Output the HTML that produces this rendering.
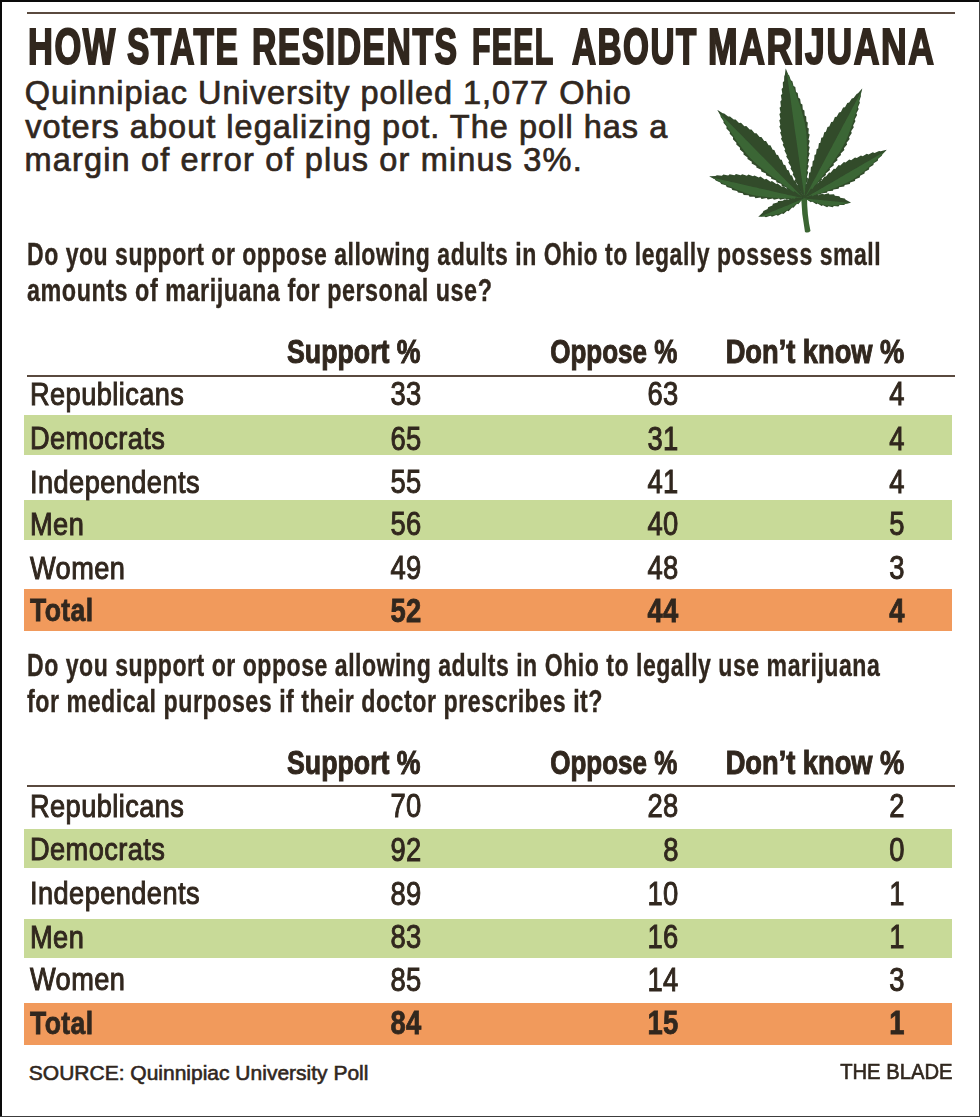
<!DOCTYPE html>
<html><head><meta charset="utf-8"><style>
html,body{margin:0;padding:0;background:#fff;}
body{width:980px;height:1117px;position:relative;overflow:hidden;font-family:"Liberation Sans",sans-serif;color:#31271e;}
.t{position:absolute;white-space:nowrap;line-height:1;transform-origin:0 0;}
.t.r{transform-origin:100% 0;}
.band{position:absolute;}
.rule{position:absolute;background:#5a4a3f;}
</style></head><body>
<div style="position:absolute;left:0;top:0;width:980px;height:2px;background:#0a0a0a"></div>
<div style="position:absolute;left:0;top:0;width:2px;height:1117px;background:#0a0a0a"></div>
<div style="position:absolute;left:979px;top:0;width:1px;height:1117px;background:#3c3c3c"></div>
<div style="position:absolute;left:0;top:1116px;width:980px;height:1px;background:#3c3c3c"></div>
<div class="rule" style="left:26.5px;top:12.4px;width:928.5px;height:1.8px"></div>
<div class="t" style="left:28.19px;top:21.88px;font-size:50px;font-weight:700;transform:scaleX(0.6890529763820714);letter-spacing:2.2px;margin-right:0;-webkit-text-stroke:2.0px #31271e;">HOW</div>
<div class="t" style="left:127.01px;top:21.88px;font-size:50px;font-weight:700;transform:scaleX(0.6703500844448342);letter-spacing:2.2px;margin-right:0;-webkit-text-stroke:2.0px #31271e;">STATE</div>
<div class="t" style="left:252.44px;top:21.88px;font-size:50px;font-weight:700;transform:scaleX(0.6749756097560979);letter-spacing:2.2px;margin-right:0;-webkit-text-stroke:2.0px #31271e;">RESIDENTS</div>
<div class="t" style="left:472.29px;top:21.88px;font-size:50px;font-weight:700;transform:scaleX(0.6051072685917721);letter-spacing:2.2px;margin-right:0;-webkit-text-stroke:2.0px #31271e;">FEEL</div>
<div class="t" style="left:571.59px;top:21.88px;font-size:50px;font-weight:700;transform:scaleX(0.6662802775327622);letter-spacing:2.2px;margin-right:0;-webkit-text-stroke:2.0px #31271e;">ABOUT</div>
<div class="t" style="left:707.71px;top:21.88px;font-size:50px;font-weight:700;transform:scaleX(0.7111295680355465);letter-spacing:2.2px;margin-right:0;-webkit-text-stroke:2.0px #31271e;">MARIJUANA</div>
<div class="t" style="left:24.80px;top:77.29px;font-size:32.5px;font-weight:400;transform:scaleX(1.0);letter-spacing:0.97px;-webkit-text-stroke:0.7px #31271e;">Quinnipiac University polled 1,077 Ohio</div>
<div class="t" style="left:25.20px;top:111.29px;font-size:32.5px;font-weight:400;transform:scaleX(1.0);letter-spacing:1.02px;-webkit-text-stroke:0.7px #31271e;">voters about legalizing pot. The poll has a</div>
<div class="t" style="left:24.50px;top:144.49px;font-size:32.5px;font-weight:400;transform:scaleX(1.0);letter-spacing:1.16px;-webkit-text-stroke:0.7px #31271e;">margin of error of plus or minus 3%.</div>
<div class="t" style="left:26.50px;top:238.86px;font-size:31px;font-weight:700;transform:scaleX(0.742738);letter-spacing:0.7px;-webkit-text-stroke:0.35px #31271e;">Do you support or oppose allowing adults in Ohio to legally possess small</div>
<div class="t" style="left:26.50px;top:275.16px;font-size:31px;font-weight:700;transform:scaleX(0.7538379999999999);letter-spacing:0.7px;-webkit-text-stroke:0.35px #31271e;">amounts of marijuana for personal use?</div>
<div class="band" style="left:24px;top:415px;width:928px;height:40px;background:#c8da98"></div>
<div class="band" style="left:24px;top:500px;width:928px;height:40px;background:#c8da98"></div>
<div class="band" style="left:24px;top:589px;width:928px;height:42px;background:#f19a5c"></div>
<div class="rule" style="left:27px;top:375px;width:928px;height:2px"></div>
<div class="t" style="left:287.30px;top:335.07px;font-size:33px;font-weight:700;transform:scaleX(0.81);letter-spacing:0px;-webkit-text-stroke:1.0px #31271e;">Support %</div>
<div class="t r" style="right:302.60px;top:335.07px;font-size:33px;font-weight:700;transform:scaleX(0.788);letter-spacing:0px;-webkit-text-stroke:1.0px #31271e;">Oppose %</div>
<div class="t r" style="right:76.00px;top:335.07px;font-size:33px;font-weight:700;transform:scaleX(0.826);letter-spacing:0px;-webkit-text-stroke:1.0px #31271e;">Don&rsquo;t know %</div>
<div class="t" style="left:29.80px;top:377.91px;font-size:32px;font-weight:400;transform:scaleX(0.85);letter-spacing:0.5px;-webkit-text-stroke:1.0px #31271e;">Republicans</div>
<div class="t r" style="right:558.59px;top:377.37px;font-size:33px;font-weight:400;transform:scaleX(0.83);letter-spacing:0.5px;-webkit-text-stroke:0.95px #31271e;">33</div>
<div class="t r" style="right:301.19px;top:377.37px;font-size:33px;font-weight:400;transform:scaleX(0.83);letter-spacing:0.5px;-webkit-text-stroke:0.95px #31271e;">63</div>
<div class="t r" style="right:75.59px;top:377.37px;font-size:33px;font-weight:400;transform:scaleX(0.83);letter-spacing:0.5px;-webkit-text-stroke:0.95px #31271e;">4</div>
<div class="t" style="left:29.80px;top:422.21px;font-size:32px;font-weight:400;transform:scaleX(0.85);letter-spacing:0.5px;-webkit-text-stroke:1.0px #31271e;">Democrats</div>
<div class="t r" style="right:558.59px;top:421.67px;font-size:33px;font-weight:400;transform:scaleX(0.83);letter-spacing:0.5px;-webkit-text-stroke:0.95px #31271e;">65</div>
<div class="t r" style="right:301.19px;top:421.67px;font-size:33px;font-weight:400;transform:scaleX(0.83);letter-spacing:0.5px;-webkit-text-stroke:0.95px #31271e;">31</div>
<div class="t r" style="right:75.59px;top:421.67px;font-size:33px;font-weight:400;transform:scaleX(0.83);letter-spacing:0.5px;-webkit-text-stroke:0.95px #31271e;">4</div>
<div class="t" style="left:29.80px;top:465.71px;font-size:32px;font-weight:400;transform:scaleX(0.85);letter-spacing:0.5px;-webkit-text-stroke:1.0px #31271e;">Independents</div>
<div class="t r" style="right:558.59px;top:465.17px;font-size:33px;font-weight:400;transform:scaleX(0.83);letter-spacing:0.5px;-webkit-text-stroke:0.95px #31271e;">55</div>
<div class="t r" style="right:301.19px;top:465.17px;font-size:33px;font-weight:400;transform:scaleX(0.83);letter-spacing:0.5px;-webkit-text-stroke:0.95px #31271e;">41</div>
<div class="t r" style="right:75.59px;top:465.17px;font-size:33px;font-weight:400;transform:scaleX(0.83);letter-spacing:0.5px;-webkit-text-stroke:0.95px #31271e;">4</div>
<div class="t" style="left:29.80px;top:507.81px;font-size:32px;font-weight:400;transform:scaleX(0.85);letter-spacing:0.5px;-webkit-text-stroke:1.0px #31271e;">Men</div>
<div class="t r" style="right:558.59px;top:507.27px;font-size:33px;font-weight:400;transform:scaleX(0.83);letter-spacing:0.5px;-webkit-text-stroke:0.95px #31271e;">56</div>
<div class="t r" style="right:301.19px;top:507.27px;font-size:33px;font-weight:400;transform:scaleX(0.83);letter-spacing:0.5px;-webkit-text-stroke:0.95px #31271e;">40</div>
<div class="t r" style="right:75.59px;top:507.27px;font-size:33px;font-weight:400;transform:scaleX(0.83);letter-spacing:0.5px;-webkit-text-stroke:0.95px #31271e;">5</div>
<div class="t" style="left:29.80px;top:552.01px;font-size:32px;font-weight:400;transform:scaleX(0.85);letter-spacing:0.5px;-webkit-text-stroke:1.0px #31271e;">Women</div>
<div class="t r" style="right:558.59px;top:551.47px;font-size:33px;font-weight:400;transform:scaleX(0.83);letter-spacing:0.5px;-webkit-text-stroke:0.95px #31271e;">49</div>
<div class="t r" style="right:301.19px;top:551.47px;font-size:33px;font-weight:400;transform:scaleX(0.83);letter-spacing:0.5px;-webkit-text-stroke:0.95px #31271e;">48</div>
<div class="t r" style="right:75.59px;top:551.47px;font-size:33px;font-weight:400;transform:scaleX(0.83);letter-spacing:0.5px;-webkit-text-stroke:0.95px #31271e;">3</div>
<div class="t" style="left:29.80px;top:594.31px;font-size:32px;font-weight:700;transform:scaleX(0.83);letter-spacing:0.5px;-webkit-text-stroke:0.8px #31271e;">Total</div>
<div class="t r" style="right:558.59px;top:593.77px;font-size:33px;font-weight:700;transform:scaleX(0.83);letter-spacing:0.5px;-webkit-text-stroke:0.8px #31271e;">52</div>
<div class="t r" style="right:301.19px;top:593.77px;font-size:33px;font-weight:700;transform:scaleX(0.83);letter-spacing:0.5px;-webkit-text-stroke:0.8px #31271e;">44</div>
<div class="t r" style="right:75.59px;top:593.77px;font-size:33px;font-weight:700;transform:scaleX(0.83);letter-spacing:0.5px;-webkit-text-stroke:0.8px #31271e;">4</div>
<div class="t" style="left:26.50px;top:650.26px;font-size:31px;font-weight:700;transform:scaleX(0.744218);letter-spacing:0.7px;-webkit-text-stroke:0.35px #31271e;">Do you support or oppose allowing adults in Ohio to legally use marijuana</div>
<div class="t" style="left:26.50px;top:686.46px;font-size:31px;font-weight:700;transform:scaleX(0.748584);letter-spacing:0.7px;-webkit-text-stroke:0.35px #31271e;">for medical purposes if their doctor prescribes it?</div>
<div class="band" style="left:24px;top:829px;width:928px;height:39px;background:#c8da98"></div>
<div class="band" style="left:24px;top:919px;width:928px;height:39px;background:#c8da98"></div>
<div class="band" style="left:24px;top:1003px;width:928px;height:42px;background:#f19a5c"></div>
<div class="rule" style="left:27px;top:785px;width:928px;height:2px"></div>
<div class="t" style="left:287.30px;top:745.67px;font-size:33px;font-weight:700;transform:scaleX(0.81);letter-spacing:0px;-webkit-text-stroke:1.0px #31271e;">Support %</div>
<div class="t r" style="right:302.60px;top:745.67px;font-size:33px;font-weight:700;transform:scaleX(0.788);letter-spacing:0px;-webkit-text-stroke:1.0px #31271e;">Oppose %</div>
<div class="t r" style="right:76.00px;top:745.67px;font-size:33px;font-weight:700;transform:scaleX(0.826);letter-spacing:0px;-webkit-text-stroke:1.0px #31271e;">Don&rsquo;t know %</div>
<div class="t" style="left:29.80px;top:789.61px;font-size:32px;font-weight:400;transform:scaleX(0.85);letter-spacing:0.5px;-webkit-text-stroke:1.0px #31271e;">Republicans</div>
<div class="t r" style="right:558.59px;top:789.07px;font-size:33px;font-weight:400;transform:scaleX(0.83);letter-spacing:0.5px;-webkit-text-stroke:0.95px #31271e;">70</div>
<div class="t r" style="right:301.19px;top:789.07px;font-size:33px;font-weight:400;transform:scaleX(0.83);letter-spacing:0.5px;-webkit-text-stroke:0.95px #31271e;">28</div>
<div class="t r" style="right:75.59px;top:789.07px;font-size:33px;font-weight:400;transform:scaleX(0.83);letter-spacing:0.5px;-webkit-text-stroke:0.95px #31271e;">2</div>
<div class="t" style="left:29.80px;top:833.31px;font-size:32px;font-weight:400;transform:scaleX(0.85);letter-spacing:0.5px;-webkit-text-stroke:1.0px #31271e;">Democrats</div>
<div class="t r" style="right:558.59px;top:832.77px;font-size:33px;font-weight:400;transform:scaleX(0.83);letter-spacing:0.5px;-webkit-text-stroke:0.95px #31271e;">92</div>
<div class="t r" style="right:301.19px;top:832.77px;font-size:33px;font-weight:400;transform:scaleX(0.83);letter-spacing:0.5px;-webkit-text-stroke:0.95px #31271e;">8</div>
<div class="t r" style="right:75.59px;top:832.77px;font-size:33px;font-weight:400;transform:scaleX(0.83);letter-spacing:0.5px;-webkit-text-stroke:0.95px #31271e;">0</div>
<div class="t" style="left:29.80px;top:877.31px;font-size:32px;font-weight:400;transform:scaleX(0.85);letter-spacing:0.5px;-webkit-text-stroke:1.0px #31271e;">Independents</div>
<div class="t r" style="right:558.59px;top:876.77px;font-size:33px;font-weight:400;transform:scaleX(0.83);letter-spacing:0.5px;-webkit-text-stroke:0.95px #31271e;">89</div>
<div class="t r" style="right:301.19px;top:876.77px;font-size:33px;font-weight:400;transform:scaleX(0.83);letter-spacing:0.5px;-webkit-text-stroke:0.95px #31271e;">10</div>
<div class="t r" style="right:75.59px;top:876.77px;font-size:33px;font-weight:400;transform:scaleX(0.83);letter-spacing:0.5px;-webkit-text-stroke:0.95px #31271e;">1</div>
<div class="t" style="left:29.80px;top:920.81px;font-size:32px;font-weight:400;transform:scaleX(0.85);letter-spacing:0.5px;-webkit-text-stroke:1.0px #31271e;">Men</div>
<div class="t r" style="right:558.59px;top:920.27px;font-size:33px;font-weight:400;transform:scaleX(0.83);letter-spacing:0.5px;-webkit-text-stroke:0.95px #31271e;">83</div>
<div class="t r" style="right:301.19px;top:920.27px;font-size:33px;font-weight:400;transform:scaleX(0.83);letter-spacing:0.5px;-webkit-text-stroke:0.95px #31271e;">16</div>
<div class="t r" style="right:75.59px;top:920.27px;font-size:33px;font-weight:400;transform:scaleX(0.83);letter-spacing:0.5px;-webkit-text-stroke:0.95px #31271e;">1</div>
<div class="t" style="left:29.80px;top:963.11px;font-size:32px;font-weight:400;transform:scaleX(0.85);letter-spacing:0.5px;-webkit-text-stroke:1.0px #31271e;">Women</div>
<div class="t r" style="right:558.59px;top:962.57px;font-size:33px;font-weight:400;transform:scaleX(0.83);letter-spacing:0.5px;-webkit-text-stroke:0.95px #31271e;">85</div>
<div class="t r" style="right:301.19px;top:962.57px;font-size:33px;font-weight:400;transform:scaleX(0.83);letter-spacing:0.5px;-webkit-text-stroke:0.95px #31271e;">14</div>
<div class="t r" style="right:75.59px;top:962.57px;font-size:33px;font-weight:400;transform:scaleX(0.83);letter-spacing:0.5px;-webkit-text-stroke:0.95px #31271e;">3</div>
<div class="t" style="left:29.80px;top:1006.71px;font-size:32px;font-weight:700;transform:scaleX(0.83);letter-spacing:0.5px;-webkit-text-stroke:0.8px #31271e;">Total</div>
<div class="t r" style="right:558.59px;top:1006.17px;font-size:33px;font-weight:700;transform:scaleX(0.83);letter-spacing:0.5px;-webkit-text-stroke:0.8px #31271e;">84</div>
<div class="t r" style="right:301.19px;top:1006.17px;font-size:33px;font-weight:700;transform:scaleX(0.83);letter-spacing:0.5px;-webkit-text-stroke:0.8px #31271e;">15</div>
<div class="t r" style="right:75.59px;top:1006.17px;font-size:33px;font-weight:700;transform:scaleX(0.83);letter-spacing:0.5px;-webkit-text-stroke:0.8px #31271e;">1</div>
<div class="t" style="left:28.80px;top:1062.42px;font-size:21px;font-weight:400;transform:scaleX(1.0);letter-spacing:0px;-webkit-text-stroke:0.6px #31271e;">SOURCE: Quinnipiac University Poll</div>
<div class="t r" style="right:27.20px;top:1062.00px;font-size:21.5px;font-weight:400;transform:scaleX(0.94);letter-spacing:0px;-webkit-text-stroke:0.6px #31271e;">THE BLADE</div>
<svg style="position:absolute;left:0;top:0" width="980" height="260" viewBox="0 0 980 260"><g filter="url(#bl)"><defs><filter id="bl" x="-10%" y="-10%" width="120%" height="120%"><feGaussianBlur stdDeviation="0.45"/></filter></defs><path d="M801,195 L807,195 Q807,215 810.5,231 Q808,233.5 805,232 Q801.5,214 801,195 Z" fill="#3a6533"/><path d="M804.0,198.0 L805.9,189.8 L807.6,184.6 L806.5,183.5 L808.0,178.3 L806.8,177.3 L808.3,172.1 L807.2,171.0 L808.8,165.8 L807.7,164.7 L809.2,159.5 L808.1,158.5 L809.7,153.3 L808.6,152.2 L809.7,147.1 L808.5,146.0 L809.7,140.8 L808.5,139.8 L809.7,134.6 L808.4,133.6 L808.8,128.6 L807.4,127.5 L807.8,122.5 L806.4,121.4 L806.2,116.5 L804.7,115.5 L804.4,110.6 L802.8,109.5 L802.4,104.6 L800.8,103.6 L800.1,98.8 L798.4,97.7 L797.7,92.9 L796.0,91.9 L795.3,87.0 L793.5,86.0 L792.4,81.2 L790.8,80.2 L789.2,75.5 L788.2,74.4 L786.3,69.7 L785.7,68.5 L785.5,69.8 L784.9,74.8 L784.2,76.2 L784.1,81.1 L782.8,82.6 L783.0,87.5 L781.6,88.9 L782.3,93.8 L780.9,95.2 L781.6,100.1 L780.3,101.5 L780.9,106.4 L779.6,107.8 L780.6,112.7 L779.4,114.1 L780.5,118.9 L779.3,120.3 L780.4,125.1 L779.4,126.5 L781.2,131.2 L780.1,132.6 L781.9,137.3 L781.0,138.7 L783.5,143.3 L782.7,144.7 L785.2,149.3 L784.4,150.6 L786.9,155.2 L786.2,156.6 L789.1,161.1 L788.3,162.5 L791.2,167.0 L790.5,168.4 L793.4,172.9 L792.6,174.3 L795.5,178.9 L794.7,180.2 L797.6,184.8 L796.8,186.1 L799.9,190.7Z" fill="#304b2b"/><path d="M803.6,195.4 L805.6,193.4 L805.9,188.9 L806.1,184.5 L806.2,180.1 L806.4,175.7 L806.5,171.2 L806.6,166.8 L806.8,162.4 L806.9,158.0 L807.1,153.5 L807.0,149.1 L806.9,144.8 L806.8,140.4 L806.6,136.0 L806.2,131.7 L805.5,127.3 L804.8,123.0 L803.8,118.8 L802.6,114.5 L801.5,110.3 L800.3,106.1 L798.8,101.9 L797.3,97.7 L795.8,93.5 L794.3,89.3 L792.6,85.1 L790.8,81.0 L789.0,76.8 L787.3,72.7 L786.4,73.7 L786.8,72.7 L787.4,77.1 L788.0,81.4 L788.6,85.7 L789.2,90.0 L789.9,94.3 L790.5,98.6 L791.1,103.0 L791.7,107.3 L792.3,111.6 L792.9,115.9 L793.5,120.2 L794.1,124.5 L794.7,128.9 L795.3,133.2 L796.0,137.5 L796.6,141.8 L797.2,146.1 L797.8,150.4 L798.4,154.8 L799.0,159.1 L799.6,163.4 L800.2,167.7 L800.8,172.0 L801.4,176.3 L802.1,180.7 L802.7,185.0 L803.3,189.3 L803.9,193.6Z" fill="#3b6634"/><path d="M804.0,198.0 L809.8,192.7 L814.2,189.4 L813.9,187.9 L818.1,184.6 L817.8,183.0 L822.0,179.7 L821.7,178.2 L826.0,174.9 L825.7,173.4 L830.0,170.1 L829.7,168.5 L833.9,165.2 L833.5,163.6 L837.5,160.2 L837.1,158.6 L841.0,155.1 L840.7,153.5 L844.4,149.9 L843.9,148.3 L847.1,144.5 L846.6,142.8 L849.7,138.9 L849.0,137.2 L851.8,133.0 L851.1,131.3 L853.8,127.2 L853.1,125.4 L855.5,121.1 L854.7,119.4 L857.1,115.0 L856.4,113.3 L858.7,109.0 L857.9,107.2 L859.9,102.7 L859.3,100.9 L860.9,96.2 L860.7,94.7 L862.0,89.9 L862.2,88.6 L861.3,89.5 L858.0,93.3 L856.6,94.0 L853.6,97.9 L851.8,98.4 L849.2,102.5 L847.3,102.9 L845.0,107.2 L843.1,107.6 L840.9,112.0 L839.0,112.4 L836.7,116.7 L834.9,117.1 L833.0,121.7 L831.2,122.1 L829.3,126.6 L827.5,127.1 L825.9,131.8 L824.3,132.3 L823.0,137.2 L821.3,137.7 L820.4,142.7 L818.9,143.3 L818.2,148.5 L816.7,149.1 L816.0,154.3 L814.5,154.9 L814.1,160.2 L812.7,160.9 L812.3,166.2 L810.9,166.9 L810.5,172.2 L809.1,172.8 L808.7,178.2 L807.3,178.8 L806.9,184.2 L805.4,184.8 L805.2,190.2Z" fill="#304b2b"/><path d="M805.2,195.8 L807.7,195.3 L810.4,192.0 L813.0,188.7 L815.5,185.4 L818.0,182.1 L820.5,178.7 L823.1,175.4 L825.6,172.1 L828.2,168.7 L830.7,165.4 L833.1,162.0 L835.4,158.6 L837.7,155.1 L840.1,151.7 L842.1,148.1 L844.0,144.4 L845.9,140.7 L847.5,136.9 L849.0,133.0 L850.5,129.2 L852.0,125.3 L853.2,121.3 L854.5,117.2 L855.7,113.2 L856.9,109.2 L858.0,105.1 L859.0,100.9 L860.0,96.8 L861.0,92.7 L859.9,93.0 L860.7,92.5 L858.8,96.1 L856.8,99.8 L854.9,103.4 L852.9,107.1 L851.0,110.7 L849.1,114.4 L847.1,118.0 L845.2,121.7 L843.2,125.3 L841.3,128.9 L839.4,132.6 L837.4,136.2 L835.5,139.9 L833.5,143.5 L831.6,147.2 L829.7,150.8 L827.7,154.5 L825.8,158.1 L823.8,161.8 L821.9,165.4 L820.0,169.1 L818.0,172.7 L816.1,176.4 L814.1,180.0 L812.2,183.6 L810.3,187.3 L808.3,190.9 L806.4,194.6Z" fill="#3b6634"/><path d="M804.0,198.0 L800.7,190.9 L798.9,185.8 L797.3,185.6 L795.4,180.6 L793.9,180.4 L792.0,175.4 L790.5,175.2 L788.6,170.2 L787.1,170.0 L785.2,165.0 L783.6,164.8 L781.7,159.8 L780.1,159.6 L778.0,154.9 L776.4,154.7 L774.3,150.0 L772.7,149.8 L770.4,145.2 L768.6,145.2 L766.0,141.0 L764.2,141.0 L761.4,136.9 L759.6,137.0 L756.5,133.2 L754.6,133.3 L751.5,129.5 L749.7,129.6 L746.3,126.1 L744.3,126.2 L741.0,122.7 L739.0,122.9 L735.6,119.4 L733.7,119.6 L730.0,116.4 L728.1,116.5 L724.2,113.5 L722.7,113.3 L718.4,110.6 L717.3,110.0 L717.9,111.1 L720.5,115.4 L720.7,116.9 L723.6,120.9 L723.5,122.8 L726.6,126.5 L726.4,128.5 L729.9,131.9 L729.7,133.8 L733.1,137.3 L732.9,139.2 L736.4,142.7 L736.3,144.5 L740.0,147.7 L739.9,149.5 L743.6,152.7 L743.5,154.5 L747.6,157.4 L747.5,159.1 L751.8,161.8 L751.7,163.6 L756.3,166.0 L756.4,167.6 L761.1,169.8 L761.3,171.4 L766.0,173.6 L766.1,175.2 L771.1,177.2 L771.2,178.7 L776.2,180.6 L776.4,182.2 L781.4,184.1 L781.6,185.7 L786.5,187.6 L786.7,189.2 L791.7,191.2 L791.8,192.7 L796.9,194.6Z" fill="#304b2b"/><path d="M802.3,196.2 L799.7,196.5 L796.2,194.1 L792.8,191.7 L789.4,189.2 L786.1,186.8 L782.7,184.3 L779.3,181.8 L776.0,179.4 L772.6,176.9 L769.2,174.5 L766.0,171.9 L762.8,169.3 L759.6,166.6 L756.4,164.0 L753.4,161.2 L750.5,158.2 L747.7,155.2 L745.0,152.0 L742.5,148.7 L740.0,145.4 L737.5,142.2 L735.1,138.7 L732.8,135.2 L730.5,131.7 L728.2,128.2 L726.0,124.6 L723.9,120.9 L721.7,117.2 L719.6,113.6 L720.8,113.5 L719.8,113.3 L722.7,116.2 L725.6,119.2 L728.5,122.1 L731.4,125.0 L734.3,128.0 L737.2,130.9 L740.1,133.8 L743.0,136.8 L745.8,139.7 L748.7,142.6 L751.6,145.6 L754.5,148.5 L757.4,151.4 L760.3,154.4 L763.2,157.3 L766.1,160.2 L769.0,163.2 L771.9,166.1 L774.7,169.0 L777.6,172.0 L780.5,174.9 L783.4,177.8 L786.3,180.8 L789.2,183.7 L792.1,186.6 L795.0,189.6 L797.9,192.5 L800.8,195.4Z" fill="#3b6634"/><path d="M804.0,198.0 L810.0,196.9 L815.4,196.6 L815.9,195.1 L821.2,194.6 L821.7,193.2 L827.0,192.7 L827.6,191.3 L832.9,190.8 L833.4,189.4 L838.6,188.8 L839.1,187.3 L844.2,186.5 L844.7,185.0 L849.8,184.1 L850.2,182.5 L854.9,181.0 L855.3,179.3 L859.8,177.5 L860.1,175.7 L864.5,173.6 L864.8,171.8 L869.0,169.5 L869.3,167.6 L873.4,165.1 L873.7,163.2 L877.8,160.7 L878.1,158.8 L881.8,155.7 L882.4,154.3 L885.9,150.8 L886.7,149.8 L885.5,150.0 L880.7,151.3 L879.1,151.1 L874.6,152.9 L872.8,152.2 L868.6,154.5 L866.8,153.8 L862.7,156.2 L860.9,155.5 L856.8,158.0 L855.0,157.4 L851.1,160.2 L849.3,159.5 L845.5,162.5 L843.9,162.1 L840.3,165.4 L838.6,165.0 L835.4,168.9 L833.8,168.7 L830.6,172.7 L829.1,172.4 L826.0,176.6 L824.5,176.4 L821.4,180.8 L819.9,180.6 L816.9,184.9 L815.4,184.7 L812.4,189.0 L810.9,188.8 L807.9,193.3Z" fill="#304b2b"/><path d="M805.7,197.0 L807.6,197.9 L810.7,196.8 L813.8,195.8 L816.8,194.6 L819.8,193.5 L822.9,192.4 L825.9,191.3 L829.0,190.2 L832.0,189.0 L835.1,187.9 L838.0,186.7 L841.0,185.4 L843.9,184.1 L846.9,182.8 L849.7,181.3 L852.4,179.7 L855.1,178.0 L857.7,176.1 L860.3,174.2 L862.8,172.2 L865.4,170.2 L867.8,168.0 L870.2,165.8 L872.6,163.7 L875.0,161.5 L877.4,159.2 L879.7,156.8 L882.0,154.4 L884.3,152.1 L883.4,151.7 L884.2,151.8 L881.4,153.4 L878.7,155.1 L875.9,156.7 L873.2,158.3 L870.4,159.9 L867.7,161.5 L864.9,163.1 L862.1,164.7 L859.4,166.3 L856.6,167.9 L853.9,169.5 L851.1,171.1 L848.4,172.7 L845.6,174.3 L842.8,175.9 L840.1,177.5 L837.3,179.2 L834.6,180.8 L831.8,182.4 L829.1,184.0 L826.3,185.6 L823.5,187.2 L820.8,188.8 L818.0,190.4 L815.3,192.0 L812.5,193.6 L809.8,195.2 L807.0,196.8Z" fill="#3b6634"/><path d="M804.0,198.0 L798.8,194.6 L794.6,191.3 L793.2,191.9 L788.9,188.7 L787.5,189.3 L783.2,186.1 L781.8,186.7 L777.6,183.4 L776.2,184.1 L771.9,180.9 L770.5,181.7 L766.2,178.7 L764.7,179.5 L760.4,176.6 L758.9,177.6 L754.4,175.4 L753.0,176.3 L748.4,174.6 L746.9,175.7 L742.2,174.2 L740.7,175.3 L736.0,174.1 L734.4,175.3 L729.7,174.3 L728.2,175.5 L723.4,174.5 L721.9,175.7 L716.9,175.3 L715.5,176.0 L710.5,176.2 L709.2,176.3 L710.3,177.0 L714.8,179.3 L715.7,180.5 L720.3,182.4 L721.2,184.1 L725.9,185.3 L726.7,187.0 L731.5,188.2 L732.3,189.9 L737.1,190.9 L738.0,192.5 L742.8,193.2 L743.7,194.9 L748.6,195.3 L749.5,196.8 L754.5,196.8 L755.4,198.3 L760.6,197.6 L761.5,198.9 L766.7,198.1 L767.7,199.4 L772.9,198.5 L773.9,199.7 L779.1,198.5 L780.1,199.7 L785.4,198.6 L786.3,199.8 L791.6,198.8 L792.6,200.0 L797.8,198.8Z" fill="#304b2b"/><path d="M802.1,197.6 L800.5,198.9 L797.2,198.9 L793.8,198.8 L790.6,198.6 L787.3,198.4 L784.0,198.2 L780.7,198.0 L777.4,197.9 L774.1,197.7 L770.9,197.5 L767.6,197.2 L764.4,196.8 L761.1,196.5 L757.9,196.1 L754.7,195.5 L751.5,194.7 L748.4,194.0 L745.3,193.0 L742.2,191.8 L739.2,190.7 L736.1,189.5 L733.1,188.1 L730.1,186.8 L727.1,185.4 L724.1,184.0 L721.1,182.5 L718.1,180.9 L715.2,179.3 L712.2,177.8 L713.0,177.2 L712.2,177.5 L715.4,178.2 L718.6,179.0 L721.7,179.7 L724.9,180.4 L728.0,181.1 L731.2,181.9 L734.4,182.6 L737.5,183.3 L740.7,184.0 L743.8,184.7 L747.0,185.5 L750.2,186.2 L753.3,186.9 L756.5,187.6 L759.6,188.4 L762.8,189.1 L766.0,189.8 L769.1,190.5 L772.3,191.3 L775.4,192.0 L778.6,192.7 L781.8,193.4 L784.9,194.1 L788.1,194.9 L791.2,195.6 L794.4,196.3 L797.6,197.0 L800.7,197.8Z" fill="#3b6634"/><path d="M804.0,198.0 L800.8,198.1 L795.6,197.6 L794.9,198.9 L789.7,198.4 L788.9,199.7 L783.8,199.4 L783.1,200.8 L778.1,201.0 L777.5,202.6 L772.9,203.7 L772.4,205.4 L768.1,207.2 L767.6,209.0 L763.4,211.1 L762.8,212.6 L759.1,215.9 L758.2,216.8 L759.5,216.8 L764.4,216.6 L765.9,217.2 L770.4,215.8 L772.0,216.7 L776.3,214.9 L777.9,215.8 L781.9,213.4 L783.5,214.1 L787.1,210.7 L788.6,211.2 L792.1,207.4 L793.5,207.8 L796.9,203.8 L798.3,204.2 L801.7,200.1Z" fill="#304b2b"/><path d="M803.1,198.4 L802.9,199.6 L801.5,200.6 L800.1,201.6 L798.7,202.5 L797.3,203.5 L795.9,204.4 L794.5,205.4 L793.1,206.3 L791.8,207.3 L790.4,208.2 L788.9,209.1 L787.5,209.9 L786.1,210.8 L784.6,211.6 L783.1,212.3 L781.6,212.9 L780.0,213.5 L778.4,214.0 L776.8,214.3 L775.2,214.7 L773.6,215.1 L771.9,215.3 L770.2,215.6 L768.5,215.8 L766.8,216.1 L765.1,216.2 L763.4,216.3 L761.6,216.5 L759.9,216.6 L760.0,216.0 L759.9,216.6 L761.4,216.0 L763.0,215.4 L764.5,214.8 L766.0,214.1 L767.5,213.5 L769.1,212.9 L770.6,212.2 L772.1,211.6 L773.7,211.0 L775.2,210.4 L776.7,209.7 L778.2,209.1 L779.8,208.5 L781.3,207.9 L782.8,207.2 L784.3,206.6 L785.9,206.0 L787.4,205.4 L788.9,204.7 L790.4,204.1 L792.0,203.5 L793.5,202.8 L795.0,202.2 L796.6,201.6 L798.1,201.0 L799.6,200.3 L801.1,199.7 L802.7,199.1Z" fill="#3b6634"/><path d="M804.0,198.0 L806.7,199.4 L810.9,202.2 L812.1,201.4 L816.3,204.2 L817.5,203.5 L821.7,206.1 L822.9,205.2 L827.1,207.3 L828.4,206.2 L832.7,207.3 L833.9,206.0 L838.4,206.5 L839.6,205.1 L844.1,205.1 L845.3,204.1 L849.9,202.9 L851.0,202.5 L849.9,201.9 L845.7,199.8 L844.7,198.6 L840.3,197.8 L839.3,196.2 L834.9,195.8 L834.0,194.3 L829.5,194.6 L828.5,193.2 L823.9,194.5 L822.9,193.4 L818.3,195.2 L817.2,194.2 L812.6,196.2 L811.6,195.2 L806.9,197.2Z" fill="#304b2b"/><path d="M804.9,198.1 L805.5,199.2 L807.0,199.8 L808.5,200.3 L810.1,200.8 L811.6,201.3 L813.1,201.8 L814.7,202.3 L816.2,202.8 L817.7,203.3 L819.3,203.8 L820.8,204.2 L822.3,204.6 L823.9,204.9 L825.4,205.3 L827.0,205.5 L828.6,205.6 L830.1,205.8 L831.7,205.7 L833.3,205.6 L834.9,205.5 L836.5,205.4 L838.1,205.1 L839.7,204.9 L841.3,204.6 L842.9,204.3 L844.5,204.0 L846.2,203.6 L847.8,203.2 L849.4,202.8 L849.1,202.3 L849.4,202.8 L847.8,202.7 L846.3,202.5 L844.7,202.4 L843.1,202.2 L841.6,202.1 L840.0,201.9 L838.4,201.8 L836.9,201.6 L835.3,201.5 L833.7,201.3 L832.2,201.2 L830.6,201.0 L829.0,200.9 L827.5,200.7 L825.9,200.6 L824.3,200.4 L822.8,200.3 L821.2,200.1 L819.6,200.0 L818.1,199.8 L816.5,199.7 L814.9,199.5 L813.4,199.4 L811.8,199.2 L810.2,199.1 L808.7,198.9 L807.1,198.8 L805.5,198.6Z" fill="#3b6634"/></g></svg>
</body></html>
